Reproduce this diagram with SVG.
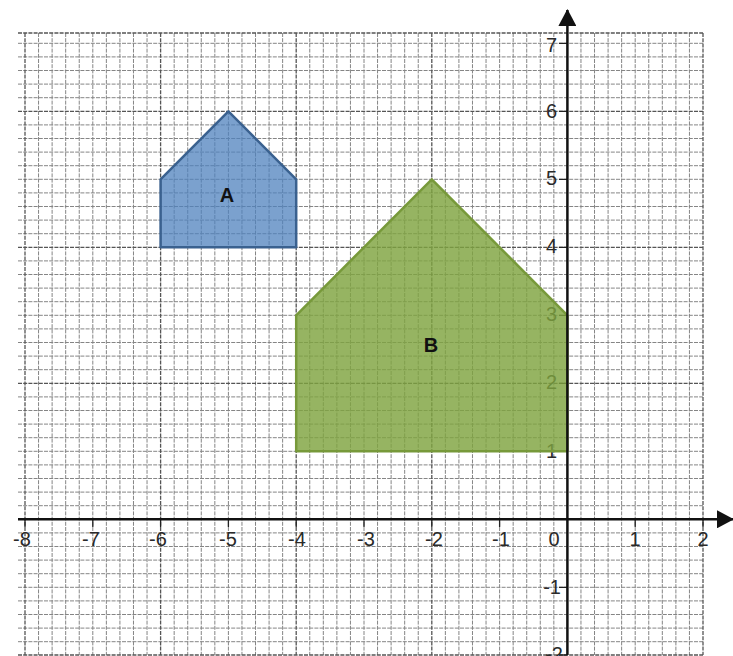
<svg xmlns="http://www.w3.org/2000/svg" width="733" height="656" viewBox="0 0 733 656">
<style>
.minor{stroke:#858585;stroke-width:1;fill:none;stroke-dasharray:4 1.2}
.major{stroke:#555;stroke-width:1.3;fill:none;stroke-dasharray:4 1.2}
.axis{stroke:#111;stroke-width:2.5;fill:none}
.tick{stroke:#222;stroke-width:1.3;fill:none}
.lbl{font-family:"Liberation Sans",Arial,sans-serif;font-size:20px;fill:#2a2a2a}
.xl{text-anchor:middle}
.yl{text-anchor:end}
.name{font-family:"Liberation Sans",Arial,sans-serif;font-size:20px;font-weight:bold;fill:#111;text-anchor:middle}
</style>
<defs>
<marker id="arr" viewBox="0 0 17 18" refX="16" refY="9" markerWidth="17" markerHeight="18" markerUnits="userSpaceOnUse" orient="auto">
<path d="M0 0L17 9L0 18Z" fill="#111"/>
</marker>
</defs>
<rect width="733" height="656" fill="#fff"/>
<g id="grid">
<path class="minor" d="M38.56 33V655M52.12 33V655M65.68 33V655M79.24 33V655M92.8 33V655M106.36 33V655M119.92 33V655M133.48 33V655M147.04 33V655M174.16 33V655M187.72 33V655M201.28 33V655M214.84 33V655M228.4 33V655M241.96 33V655M255.52 33V655M269.08 33V655M282.64 33V655M309.76 33V655M323.32 33V655M336.88 33V655M350.44 33V655M364 33V655M377.56 33V655M391.12 33V655M404.68 33V655M418.24 33V655M445.36 33V655M458.92 33V655M472.48 33V655M486.04 33V655M499.6 33V655M513.16 33V655M526.72 33V655M540.28 33V655M553.84 33V655M580.96 33V655M594.52 33V655M608.08 33V655M621.64 33V655M635.2 33V655M648.76 33V655M662.32 33V655M675.88 33V655M689.44 33V655"/>
<path class="minor" d="M18 43.3H703M18 56.9H703M18 70.5H703M18 84.1H703M18 97.7H703M18 124.9H703M18 138.5H703M18 152.1H703M18 165.7H703M18 179.3H703M18 192.9H703M18 206.5H703M18 220.1H703M18 233.7H703M18 260.9H703M18 274.5H703M18 288.1H703M18 301.7H703M18 315.3H703M18 328.9H703M18 342.5H703M18 356.1H703M18 369.7H703M18 396.9H703M18 410.5H703M18 424.1H703M18 437.7H703M18 451.3H703M18 464.9H703M18 478.5H703M18 492.1H703M18 505.7H703M18 532.9H703M18 546.5H703M18 560.1H703M18 573.7H703M18 587.3H703M18 600.9H703M18 614.5H703M18 628.1H703M18 641.7H703"/>
<path class="major" d="M25 33V655M160.6 33V655M296.2 33V655M431.8 33V655M703 33V655M18 33H703M18 111.3H703M18 247.3H703M18 383.3H703M18 655H703"/>
</g>
<g id="labels">
<text class="lbl xl" x="22" y="546">-8</text>
<text class="lbl xl" x="91" y="546">-7</text>
<text class="lbl xl" x="158" y="546">-6</text>
<text class="lbl xl" x="228" y="546">-5</text>
<text class="lbl xl" x="297" y="546">-4</text>
<text class="lbl xl" x="366" y="546">-3</text>
<text class="lbl xl" x="434" y="546">-2</text>
<text class="lbl xl" x="501" y="546">-1</text>
<text class="lbl xl" x="554" y="546">0</text>
<text class="lbl xl" x="635" y="546">1</text>
<text class="lbl xl" x="703" y="546">2</text>
<text class="lbl yl" x="557" y="52">7</text>
<text class="lbl yl" x="557" y="118">6</text>
<text class="lbl yl" x="557" y="185">5</text>
<text class="lbl yl" x="557" y="253">4</text>
<text class="lbl yl" x="557" y="321">3</text>
<text class="lbl yl" x="557" y="389">2</text>
<text class="lbl yl" x="557" y="458">1</text>
<text class="lbl yl" x="561" y="594">-1</text>
<text class="lbl yl" x="563" y="661">-2</text>
</g>
<g id="ticks">
<path class="tick" d="M25 519.3V527M92.8 519.3V527M160.6 519.3V527M228.4 519.3V527M296.2 519.3V527M364 519.3V527M431.8 519.3V527M499.6 519.3V527M635.2 519.3V527M703 519.3V527M559 43.3H567.4M559 111.3H567.4M559 179.3H567.4M559 247.3H567.4M559 315.3H567.4M559 383.3H567.4M559 451.3H567.4M559 587.3H567.4M559 655H567.4"/>
</g>
<g id="shapeA">
<polygon points="160.6,247.3 160.6,179.3 228.4,111.3 296.2,179.3 296.2,247.3" fill="#4f81bd" fill-opacity="0.75" stroke="#3a618f" stroke-width="2.5" stroke-linejoin="round"/>
<text class="name" x="227" y="202">A</text>
</g>
<g id="shapeB">
<polygon points="296.2,451.3 296.2,315.3 431.8,179.3 567.4,315.3 567.4,451.3" fill="#7fa33f" fill-opacity="0.82" stroke="#77993a" stroke-width="2.5" stroke-linejoin="round"/>
<text class="name" x="431" y="352">B</text>
</g>
<g id="connectors">
<line class="axis" x1="18" y1="519.3" x2="733" y2="519.3" marker-end="url(#arr)"/>
<line class="axis" x1="567.4" y1="655" x2="567.4" y2="10" marker-end="url(#arr)"/>
</g>
</svg>
